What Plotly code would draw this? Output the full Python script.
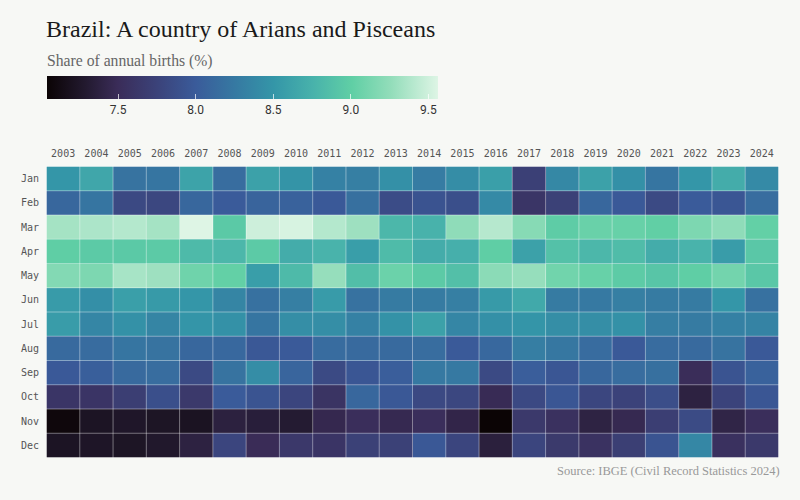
import plotly.graph_objects as go

years = [str(y) for y in range(2003, 2025)]
months = ["Jan", "Feb", "Mar", "Apr", "May", "Jun", "Jul", "Aug", "Sep", "Oct", "Nov", "Dec"]

jan = [8.50, 8.65, 8.20, 8.22, 8.62, 8.15, 8.60, 8.48, 8.32, 8.30, 8.45, 8.28, 8.42, 8.58, 7.72, 8.38, 8.60, 8.45, 8.22, 8.50, 8.70, 8.40]
feb = [8.10, 8.22, 7.82, 7.80, 8.10, 8.00, 8.07, 8.06, 7.98, 8.17, 7.85, 7.92, 7.88, 8.40, 7.60, 7.73, 8.10, 7.98, 7.83, 8.00, 7.95, 8.15]
mar = [9.33, 9.36, 9.39, 9.33, 9.56, 8.95, 9.49, 9.53, 9.39, 9.30, 8.80, 8.75, 9.24, 9.40, 9.20, 8.98, 9.05, 9.04, 9.01, 9.15, 9.24, 9.02]
apr = [9.00, 8.96, 8.95, 8.96, 8.82, 8.80, 8.96, 8.70, 8.76, 8.57, 8.83, 8.70, 8.73, 9.00, 8.60, 8.88, 8.80, 8.84, 8.70, 8.76, 8.56, 8.94]
may = [9.18, 9.15, 9.34, 9.30, 9.08, 9.02, 8.57, 8.82, 9.27, 8.86, 9.06, 8.96, 8.87, 9.22, 9.27, 9.09, 9.04, 8.97, 8.92, 9.00, 9.10, 8.94]
jun = [8.55, 8.44, 8.58, 8.54, 8.50, 8.35, 8.18, 8.30, 8.55, 8.19, 8.27, 8.27, 8.30, 8.54, 8.67, 8.27, 8.25, 8.30, 8.27, 8.27, 8.50, 8.18]
jul = [8.56, 8.36, 8.46, 8.35, 8.49, 8.46, 8.22, 8.43, 8.43, 8.32, 8.47, 8.60, 8.36, 8.45, 8.49, 8.43, 8.43, 8.46, 8.29, 8.27, 8.32, 8.34]
aug = [8.12, 8.14, 8.22, 8.20, 8.10, 8.11, 7.97, 7.99, 8.14, 8.12, 8.12, 8.15, 7.99, 8.11, 8.29, 8.23, 8.14, 7.98, 8.14, 8.12, 8.20, 7.98]
sep = [7.98, 8.03, 8.12, 8.15, 7.83, 8.20, 8.42, 8.08, 7.83, 7.95, 8.02, 8.25, 8.25, 7.83, 8.02, 7.95, 8.10, 8.15, 8.17, 7.50, 7.93, 8.06]
oct_ = [7.60, 7.59, 7.70, 7.88, 7.64, 8.00, 7.93, 7.78, 7.58, 8.10, 7.97, 7.82, 7.80, 7.48, 7.82, 7.95, 7.79, 7.75, 7.87, 7.38, 7.76, 7.95]
nov = [7.08, 7.22, 7.25, 7.23, 7.21, 7.37, 7.34, 7.30, 7.45, 7.52, 7.46, 7.52, 7.42, 7.04, 7.64, 7.55, 7.39, 7.46, 7.70, 7.84, 7.41, 7.52]
dec = [7.22, 7.24, 7.23, 7.27, 7.38, 7.78, 7.49, 7.63, 7.59, 7.73, 7.73, 7.97, 7.78, 7.36, 7.78, 7.65, 7.56, 7.71, 7.93, 8.37, 7.55, 7.64]

z = [jan, feb, mar, apr, may, jun, jul, aug, sep, oct_, nov, dec]

cb_ticks = [7.5, 8.0, 8.5, 9.0, 9.5]

colorscale = [
    [0.00, "#0b0405"],
    [0.10, "#231a30"],
    [0.18, "#3a2c58"],
    [0.28, "#3b4279"],
    [0.38, "#3a5b9a"],
    [0.48, "#3679a2"],
    [0.58, "#3496a8"],
    [0.68, "#48b2ab"],
    [0.78, "#60cfa5"],
    [0.88, "#93ddba"],
    [1.00, "#def5e5"],
]

bg = "#f7f8f5"
mono = "DejaVu Sans Mono, monospace"
serif = "Liberation Serif, serif"

PLOT_TOP, PLOT_BOTTOM = 166, 458
PH = PLOT_BOTTOM - PLOT_TOP

fig = go.Figure(go.Heatmap(
    z=z, x=years, y=months,
    colorscale=colorscale,
    colorbar=dict(
        orientation="h",
        xref="container", yref="container",
        x=51 / 800, xanchor="left",
        y=1 - 76 / 500, yanchor="top",
        len=391, lenmode="pixels",
        thickness=23, thicknessmode="pixels",
        xpad=0, ypad=0,
        outlinewidth=0,
        tickvals=cb_ticks, tickformat=".1f",
        ticks="inside", ticklen=5, tickcolor="rgba(255,255,255,0.7)",
        tickfont=dict(family="Roboto, sans-serif", size=12, color="#333"),
    ),
    hoverongaps=False,
))

shapes = []
for i in range(len(years) + 1):
    shapes.append(dict(type="line", xref="x", yref="paper", x0=i - 0.5, x1=i - 0.5, y0=0, y1=1,
                       line=dict(color="rgba(255,255,255,0.4)", width=1), layer="above"))
for j in range(len(months) + 1):
    shapes.append(dict(type="line", xref="paper", yref="y", x0=0, x1=1, y0=j - 0.5, y1=j - 0.5,
                       line=dict(color="rgba(255,255,255,0.4)", width=1), layer="above"))

fig.update_layout(
    width=800, height=500,
    paper_bgcolor=bg, plot_bgcolor=bg,
    margin=dict(l=46, r=21, t=PLOT_TOP, b=500 - PLOT_BOTTOM),
    title=dict(text="Brazil: A country of Arians and Pisceans", x=46 / 800, xanchor="left",
               y=1 - 37 / 500, yanchor="bottom", yref="container",
               font=dict(family=serif, size=24, color="#1a1a1a")),
    xaxis=dict(side="top", showgrid=False, zeroline=False, ticks="", showline=False,
               tickfont=dict(family=mono, size=10, color="#555"), ticklabelstandoff=6),
    yaxis=dict(autorange="reversed", showgrid=False, zeroline=False, ticks="", showline=False,
               tickfont=dict(family=mono, size=10, color="#555"), ticklabelstandoff=6),
    shapes=shapes,
    annotations=[
        dict(text="Share of annual births (%)", xref="paper", yref="paper",
             x=0, y=(PLOT_BOTTOM - 72) / PH, xanchor="left", yanchor="bottom",
             xshift=-1, showarrow=False, font=dict(family=serif, size=15.7, color="#666")),
        dict(text="Source: IBGE (Civil Record Statistics 2024)", xref="paper", yref="paper",
             x=1.0, y=-13 / PH, xanchor="right", yanchor="middle", xshift=3,
             showarrow=False, font=dict(family=serif, size=12.5, color="#999")),
    ],
)

fig.write_html("out.html")
